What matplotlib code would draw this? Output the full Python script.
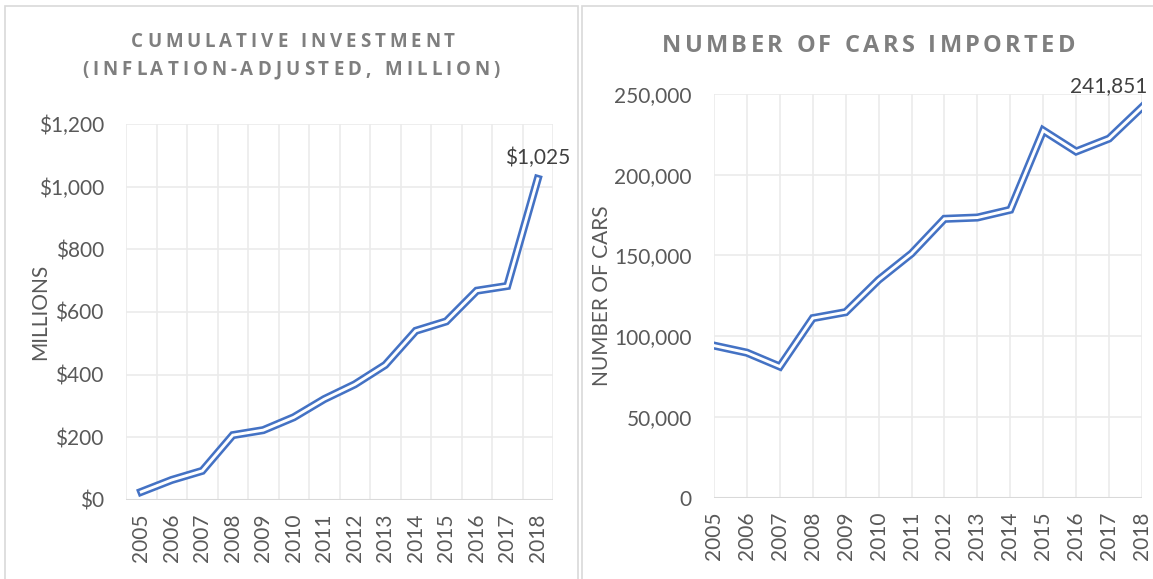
import numpy as np
import matplotlib
matplotlib.use("Agg")
import matplotlib.pyplot as plt
from matplotlib.patches import Rectangle
from matplotlib.ticker import FuncFormatter, MultipleLocator

plt.rcParams['font.family'] = ['Lato', 'DejaVu Sans']

years = ['2005', '2006', '2007', '2008', '2009', '2010', '2011',
         '2012', '2013', '2014', '2015', '2016', '2017', '2018']
investment = [26, 64, 93, 207, 223, 264, 322, 369, 431, 540, 570, 668, 683, 1025]
cars = [94200, 89800, 81200, 111200, 114900, 134900, 151200,
        172700, 173500, 178300, 227400, 214400, 222400, 241851]

BLUE = '#4472C4'
GRID = '#EBEBEB'
TICK = '#595959'
TITLE = '#7F7F7F'

W, H = 1153, 579
fig = plt.figure(figsize=(W / 100, H / 100), dpi=100)
renderer = fig.canvas.get_renderer()

# chart frames
fig.patches.append(Rectangle((5 / W, -0.01), 573 / W, 1 - 6 / H + 0.01, transform=fig.transFigure,
                             fill=False, edgecolor='#D9D9D9', lw=1.2))
fig.patches.append(Rectangle((582 / W, -0.01), 0.5, 1 - 6 / H + 0.01, transform=fig.transFigure,
                             fill=False, edgecolor='#D9D9D9', lw=1.2))

title_font = dict(family=['Open Sans', 'DejaVu Sans'], fontweight='bold', color=TITLE)


def tracked_title(s, x0, x1, cy, size):
    # letter-spaced title stretched between pixel columns x0..x1
    em = size * 100 / 72
    widths = []
    for c in s:
        if c == ' ':
            widths.append(0.3 * em)
        else:
            t = fig.text(0, 0, c, fontsize=size, **title_font)
            widths.append(t.get_window_extent(renderer).width)
            t.remove()
    gap = (x1 - x0 - sum(widths)) / (len(s) - 1)
    base = 1 - (cy + 0.36 * em) / H
    xp = x0
    for c, w in zip(s, widths):
        if c != ' ':
            fig.text((xp + w / 2) / W, base, c, ha='center', va='baseline', fontsize=size, **title_font)
        xp += w + gap


def double_line(ax, x, y):
    ax.plot(x, y, color=BLUE, lw=5.8, solid_joinstyle='miter', zorder=3)
    ax.plot(x, y, color='white', lw=2.1, solid_joinstyle='miter', zorder=4)


def style(ax):
    for s in ax.spines.values():
        s.set_visible(False)
    ax.tick_params(length=0, labelsize=15, labelcolor=TICK)
    ax.grid(True, which='major', axis='y', color=GRID, lw=1.2)


x = np.arange(len(years))

# left chart
ax1 = fig.add_axes([126 / W, 1 - 500 / H, 427 / W, 376 / H])
style(ax1)
double_line(ax1, x, investment)
ax1.set_xlim(-0.5, len(years) - 0.5)
ax1.set_ylim(0, 1200)
ax1.yaxis.set_major_locator(MultipleLocator(200))
ax1.yaxis.set_major_formatter(FuncFormatter(lambda v, p: '${:,.0f}'.format(v)))
ax1.set_xticks(x)
ax1.set_xticklabels(years, rotation=90)
ax1.set_xticks(np.arange(len(years) + 1) - 0.5, minor=True)
ax1.tick_params(which='minor', length=0)
ax1.grid(True, which='minor', axis='x', color=GRID, lw=1.2)
ax1.axhline(0, color='#D9D9D9', lw=1.5, zorder=2)
ax1.tick_params(axis='y', pad=16)
ax1.tick_params(axis='x', pad=10)
ax1.set_ylabel('MILLIONS', fontsize=15, color=TICK, labelpad=-8)
ax1.annotate('${:,.0f}'.format(investment[-1]), (x[-1], investment[-1]),
             xytext=(0, 8), textcoords='offset points', ha='center', va='bottom',
             fontsize=15, color='#404040', zorder=5)
tracked_title('CUMULATIVE INVESTMENT', 131, 455, 40, 13.5)
tracked_title('(INFLATION-ADJUSTED, MILLION)', 82, 500, 68, 13.5)

# right chart
ax2 = fig.add_axes([714 / W, 1 - 497.7 / H, 428 / W, 403.7 / H])
style(ax2)
double_line(ax2, x, cars)
ax2.set_xlim(0, len(years) - 1)
ax2.set_ylim(0, 250000)
ax2.yaxis.set_major_locator(MultipleLocator(50000))
ax2.yaxis.set_major_formatter(FuncFormatter(lambda v, p: '{:,.0f}'.format(v)))
ax2.set_xticks(x)
ax2.set_xticklabels(years, rotation=90)
ax2.grid(True, which='major', axis='x', color=GRID, lw=1.2)
ax2.axhline(0, color='#D9D9D9', lw=1.5, zorder=2)
ax2.tick_params(axis='y', pad=16)
ax2.tick_params(axis='x', pad=10)
ax2.set_ylabel('NUMBER OF CARS', fontsize=15, color=TICK, labelpad=2)
ax2.annotate('{:,.0f}'.format(cars[-1]), (x[-1], cars[-1]),
             xytext=(-24, 8), textcoords='offset points', ha='center', va='bottom',
             fontsize=15, color='#404040', zorder=5, annotation_clip=False)
tracked_title('NUMBER OF CARS IMPORTED', 662, 1075, 43, 17)

fig.savefig('out.png', dpi=100)
